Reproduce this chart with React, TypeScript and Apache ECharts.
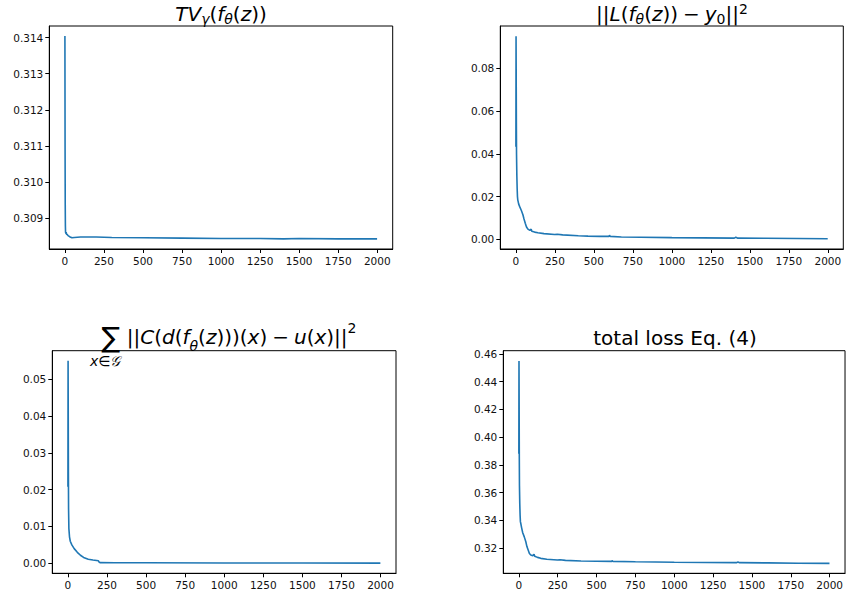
import React, { useEffect, useRef } from "react";
import * as echarts from "echarts";

// ---- tick values ----
const xTicks = [0, 250, 500, 750, 1000, 1250, 1500, 1750, 2000];
const tvTicks = [0.309, 0.31, 0.311, 0.312, 0.313, 0.314];
const fitTicks = [0, 0.02, 0.04, 0.06, 0.08];
const sensTicks = [0, 0.01, 0.02, 0.03, 0.04, 0.05];
const totalTicks = [0.32, 0.34, 0.36, 0.38, 0.4, 0.42, 0.44, 0.46];

// ---- TV_gamma(f_theta(z)) ----
const tvX = [0, 1, 2, 3, 4, 6, 8, 10, 15, 20, 30, 45, 60, 100, 200, 300, 500, 750, 1000, 1250, 1400, 1500, 1750, 1999];
const tvY = [0.31404, 0.311, 0.3094, 0.3088, 0.30862, 0.30858, 0.30862, 0.30856, 0.30855, 0.30852, 0.30849, 0.30846, 0.30847, 0.30848, 0.30848, 0.30847, 0.30846, 0.30845, 0.30844, 0.30844, 0.30843, 0.30844, 0.30843, 0.30843];

// ---- ||L(f_theta(z)) - y0||^2 ----
const fitX = [0, 1, 2, 3, 4, 6, 8, 10, 12, 18, 25, 35, 45, 52, 60, 68, 77, 90, 98, 102, 120, 141, 180, 248, 265, 300, 400, 462, 538, 598, 600, 605, 676, 800, 1000, 1200, 1400, 1410, 1420, 1600, 1800, 1999];
const fitY = [0.0433, 0.095, 0.075, 0.055, 0.04, 0.03, 0.024, 0.02, 0.0185, 0.0165, 0.0152, 0.0135, 0.0115, 0.0095, 0.0075, 0.0058, 0.0048, 0.0042, 0.0048, 0.0038, 0.0034, 0.0031, 0.0027, 0.0023, 0.0024, 0.0021, 0.0017, 0.0015, 0.0014, 0.0014, 0.0019, 0.0014, 0.0011, 0.001, 0.0008, 0.0007, 0.0006, 0.001, 0.0006, 0.0005, 0.0004, 0.0003];

// ---- sum ||C(d(f_theta(z)))(x) - u(x)||^2 ----
const sensX = [0, 1, 2, 3, 4, 6, 10, 15, 25, 40, 60, 80, 100, 130, 160, 195, 200, 205, 300, 500, 1000, 1500, 1999];
const sensY = [0.0208, 0.055, 0.04, 0.025, 0.015, 0.0095, 0.0072, 0.006, 0.005, 0.004, 0.003, 0.0022, 0.0016, 0.0011, 0.0009, 0.0007, 0.0003, 0.0002, 0.00018, 0.00015, 0.0001, 0.00008, 0.00006];

// ---- total loss Eq. (4) ----
const totalX = [0, 1, 2, 3, 4, 6, 8, 10, 12, 18, 25, 35, 45, 52, 60, 68, 77, 90, 98, 102, 120, 141, 180, 248, 265, 300, 400, 500, 598, 600, 605, 750, 880, 1000, 1200, 1400, 1410, 1420, 1600, 1800, 1999];
const totalY = [0.388, 0.455, 0.42, 0.385, 0.365, 0.352, 0.344, 0.339, 0.338, 0.3345, 0.331, 0.328, 0.3245, 0.321, 0.3185, 0.316, 0.3149, 0.3143, 0.3155, 0.314, 0.3132, 0.3125, 0.3118, 0.3113, 0.3115, 0.311, 0.3106, 0.3104, 0.3103, 0.3108, 0.3103, 0.31, 0.3099, 0.3097, 0.3095, 0.3094, 0.3098, 0.3094, 0.3092, 0.309, 0.3089];

const FONT = "DejaVu Sans";
const BLUE = "#1f77b4";

function pairs(xs: number[], ys: number[]) {
  return xs.map((x, i) => [x, ys[i]]);
}

export default function App() {
  const ref = useRef<HTMLDivElement>(null);
  useEffect(() => {
    if (!ref.current) return;
    const chart = echarts.init(ref.current, undefined, { renderer: "svg" });

    const grids = [
      { left: 49.3, top: 26, width: 343.4, height: 223 },
      { left: 500.3, top: 26, width: 343, height: 223 },
      { left: 52.3, top: 350.7, width: 343.7, height: 222.6 },
      { left: 503.3, top: 350.7, width: 343.7, height: 222.6 },
    ].map((g) => ({ ...g, show: true, borderColor: "#000", borderWidth: 1, backgroundColor: "transparent", containLabel: false }));

    const yDefs = [
      { min: 0.30815, max: 0.31432, ticks: tvTicks, dec: 3 },
      { min: -0.0045, max: 0.0998, ticks: fitTicks, dec: 2 },
      { min: -0.0027, max: 0.0577, ticks: sensTicks, dec: 2 },
      { min: 0.3017, max: 0.4624, ticks: totalTicks, dec: 2 },
    ];

    const axisCommon = {
      axisLine: { show: true, onZero: false, lineStyle: { color: "#000", width: 1 } },
      splitLine: { show: false },
    };

    const xAxis = grids.map((_, i) => ({
      type: "value",
      gridIndex: i,
      min: -100,
      max: 2099,
      ...axisCommon,
      axisTick: { show: true, length: 4, lineStyle: { color: "#000", width: 1 }, customValues: xTicks },
      axisLabel: {
        customValues: xTicks,
        margin: 6,
        fontFamily: FONT,
        fontSize: 10.5,
        color: "#111",
        formatter: (v: number) => String(Math.round(v)),
      },
    }));

    const yAxis = yDefs.map((d, i) => ({
      type: "value",
      gridIndex: i,
      min: d.min,
      max: d.max,
      ...axisCommon,
      axisTick: { show: true, length: 4, lineStyle: { color: "#000", width: 1 }, customValues: d.ticks },
      axisLabel: {
        customValues: d.ticks,
        margin: 6,
        fontFamily: FONT,
        fontSize: 10.5,
        color: "#111",
        formatter: (v: number) => v.toFixed(d.dec),
      },
    }));

    const datasets = [pairs(tvX, tvY), pairs(fitX, fitY), pairs(sensX, sensY), pairs(totalX, totalY)];
    const series = datasets.map((data, i) => ({
      type: "line",
      xAxisIndex: i,
      yAxisIndex: i,
      data,
      showSymbol: false,
      symbol: "none",
      lineStyle: { color: BLUE, width: 1.6 },
      emphasis: { disabled: true },
    }));

    const base = { fontFamily: FONT, fill: "#000" };
    const rich = {
      n: { ...base, fontSize: 20, lineHeight: 24 },
      i: { ...base, fontSize: 20, lineHeight: 24, fontStyle: "italic" },
      s: { ...base, fontSize: 14, lineHeight: 16, fontStyle: "italic", verticalAlign: "bottom" },
      sn: { ...base, fontSize: 14, lineHeight: 16, verticalAlign: "bottom" },
      p: { ...base, fontSize: 14, lineHeight: 16, verticalAlign: "top" },
      big: { ...base, fontSize: 28, lineHeight: 32 },
      p2: { ...base, fontSize: 14, lineHeight: 16, verticalAlign: "top" },
    };

    const title = (x: number, y: number, text: string) => ({
      type: "text",
      x,
      y,
      silent: true,
      style: { text, rich, align: "center", verticalAlign: "middle", ...base, fontSize: 20 },
    });

    const graphic = [
      title(221, 14, "{i|TV}{s|γ}{n|(}{i|f}{s|θ}{n|(}{i|z}{n|))}"),
      title(672, 14, "{n|||}{i|L}{n|(}{i|f}{s|θ}{n|(}{i|z}{n|))\u2005−\u2005}{i|y}{sn|0}{n|||}{p|2}"),
      title(229, 337, "{big|∑} {n|||}{i|C}{n|(}{i|d}{n|(}{i|f}{s|θ}{n|(}{i|z}{n|)))(}{i|x}{n|)\u2005−\u2005}{i|u}{n|(}{i|x}{n|)||}{p2|2}"),
      title(675, 338, "{n|total loss Eq. (4)}"),
      {
        type: "text",
        x: 90,
        y: 354,
        silent: true,
        style: {
          text: "{i|x}{n|∈}{i|𝒢}",
          rich: {
            i: { ...base, fontSize: 14, fontStyle: "italic" },
            n: { ...base, fontSize: 14 },
          },
          ...base,
          fontSize: 14,
        },
      },
    ];

    chart.setOption({
      animation: false,
      backgroundColor: "#fff",
      grid: grids,
      xAxis,
      yAxis,
      series,
      graphic,
    } as any);
    return () => chart.dispose();
  }, []);

  return <div ref={ref} style={{ position: "fixed", left: 0, top: 0, width: 846, height: 597 }} />;
}
